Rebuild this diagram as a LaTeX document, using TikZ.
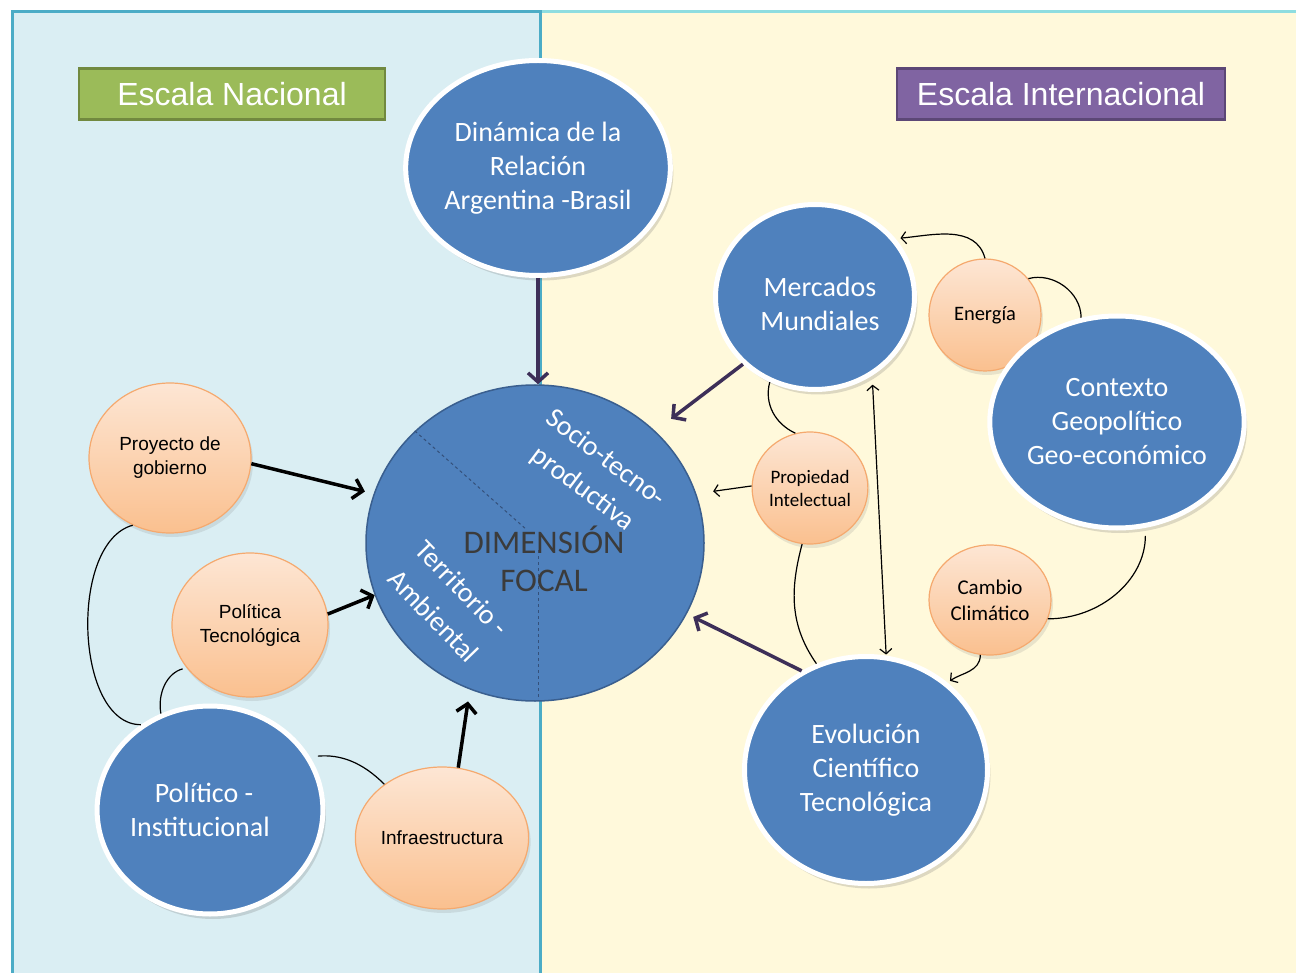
\documentclass[tikz,border=0pt]{standalone}
\usepackage{fontspec}
\setmainfont{Carlito}
\newfontfamily\arialf{Liberation Sans}
\usetikzlibrary{shapes.geometric,arrows.meta,shadows}
\definecolor{cblue}{HTML}{4F81BD}
\definecolor{focalb}{HTML}{3A5F8F}
\definecolor{dashc}{HTML}{34507A}
\definecolor{lblue}{HTML}{DAEEF3}
\definecolor{cream}{HTML}{FFF9DB}
\definecolor{tealb}{HTML}{4BACC6}
\definecolor{topcyan}{HTML}{8EDDE0}
\definecolor{tgreen}{HTML}{9BBB59}
\definecolor{tgreenb}{HTML}{71893F}
\definecolor{tpurp}{HTML}{8064A2}
\definecolor{tpurpb}{HTML}{5C4776}
\definecolor{orTop}{HTML}{FDE6D4}
\definecolor{orBot}{HTML}{FAC08F}
\definecolor{orLine}{HTML}{F5A96E}
\definecolor{darkp}{HTML}{3D2F58}
\definecolor{dimgray}{HTML}{3B3B3B}
\tikzset{
 bluec/.style={ellipse, fill=cblue, draw=white, line width=5pt, text=white, align=center, inner sep=0pt,
   font=\fontsize{28}{34}\selectfont,
   drop shadow={shadow xshift=3pt, shadow yshift=-5pt, opacity=0.22, fill=black!60}},
 orc/.style={ellipse, top color=orTop, bottom color=orBot, draw=orLine, line width=1.2pt, align=center,
   inner sep=0pt, text=black,
   drop shadow={shadow xshift=2pt, shadow yshift=-4pt, opacity=0.18, fill=black!50}},
 arialtxt/.style={font=\arialf\fontsize{19}{24}\selectfont},
 titlebox/.style={rectangle, line width=2.5pt, text=white, font=\arialf\fontsize{32}{36}\selectfont, inner sep=0pt},
 karrow/.style={line width=3.5pt, draw=black, -{Straight Barb[length=9pt,width=20pt]}},
 parrow/.style={line width=3.5pt, draw=darkp, -{Straight Barb[length=9pt,width=20pt]}},
 tarrow/.style={line width=1.2pt, draw=black, -{Straight Barb[length=5pt,width=12pt]}},
 tdarrow/.style={line width=1.2pt, draw=black, {Straight Barb[length=5pt,width=12pt]}-{Straight Barb[length=5pt,width=12pt]}},
 tline/.style={line width=1.2pt, draw=black},
 rottxt/.style={text=white, align=center},
}
\begin{document}
\begin{tikzpicture}[x=1pt,y=-1pt]
\useasboundingbox (0,0) rectangle (1296,973);
% backgrounds
\fill[white] (0,0) rectangle (1296,973);
\fill[cream] (540,12) rectangle (1296,973);
\fill[lblue] (12,12) rectangle (540,973);
\draw[topcyan, line width=3pt] (540,12) -- (1296,12);
\draw[tealb, line width=3pt] (12,980) -- (12,12) -- (540,12) -- (540,980);

% titles
\node[titlebox, fill=tgreen, draw=tgreenb, minimum width=306pt, minimum height=51pt] (nac) at (232,94) {Escala Nacional};
\node[titlebox, fill=tpurp, draw=tpurpb, minimum width=328pt, minimum height=51pt] (int) at (1061,94) {Escala Internacional};

% orange circles
\node[orc, arialtxt, minimum width=162pt, minimum height=150pt] (proy) at (170,458) {Proyecto de\\gobierno};
\node[orc, arialtxt, minimum width=156pt, minimum height=144pt] (poltec) at (250,625) {Política\\Tecnológica};
\node[orc, arialtxt, minimum width=154pt, minimum height=142pt] (infra) at (442,838) {Infraestructura};
\node[orc, minimum width=112pt, minimum height=112pt, font=\fontsize{20.5}{24}\selectfont] (en) at (985,315) {Energía};
\node[orc, minimum width=112pt, minimum height=112pt, font=\fontsize{19}{23}\selectfont] (prop) at (810,488) {Propiedad\\Intelectual};
\node[orc, minimum width=122pt, minimum height=110pt, font=\fontsize{21}{26}\selectfont] (cam) at (990,600) {Cambio\\Climático};

% blue circles
\node[bluec, minimum width=239pt, minimum height=215pt] (dyn) at (538,168) {Dinámica de la\\Relación\\Argentina -Brasil};
\node[bluec, minimum width=199pt, minimum height=185pt] (merc) at (815,297) {\rule{0pt}{33pt}\hspace*{10pt}Mercados\\\hspace*{10pt}Mundiales};
\node[bluec, minimum width=230pt, minimum height=212pt] (ctx) at (1117,422) {Contexto\\Geopolítico\\Geo-económico};
\node[bluec, minimum width=243pt, minimum height=227pt] (evo) at (866,770) {Evolución\\Científico\\Tecnológica};
\node[bluec, minimum width=219pt, minimum height=208pt] (pol) at (210,810) {Político -\hspace*{12pt}\\Institucional\hspace*{20pt}};

% focal
\node[ellipse, fill=cblue, draw=focalb, line width=1.5pt, minimum width=338pt, minimum height=316pt, inner sep=0pt] (focal) at (535,543) {};
\draw[dashed, dashc, line width=1pt] (focal.137) -- (527,530);
\draw[dashed, dashc, line width=1pt] (538,550) -- (538,700);
\node[rottxt, font=\fontsize{28}{38}\selectfont, rotate=-37] (socio) at (594,474) {Socio-tecno-\\productiva};
\node[rottxt, font=\fontsize{28}{40}\selectfont, rotate=-46] (terr) at (448,602) {Territorio -\\Ambiental};
\node[text=dimgray, font=\fontsize{33}{38}\selectfont, align=center] (dimt) at (544,559) {DIMENSIÓN\\FOCAL};

% main arrows
\draw[parrow] (dyn.south) -- (dyn.south |- focal.north);
\draw[parrow, shorten >=20pt] (merc.223) -- (focal.43);
\draw[parrow, shorten >=7pt] (evo.123) -- (focal.-25);
\draw[karrow, shorten >=9pt] (proy.-4) -- (focal.163);
\draw[karrow] (poltec.8) -- (focal.198);
\draw[karrow, shorten >=12pt] (infra.77) -- (focal.246);

% thin connectors
\draw[tarrow, shorten >=17pt] (prop.178) -- (focal.17);
\draw[tdarrow, shorten <=9pt, shorten >=1pt] (merc.-54) -- (evo.80);
\draw[tarrow, shorten >=5pt] (en.north) to[out=105,in=5] (merc.36);
\draw[tline] (en.40) to[out=15,in=90] (ctx.109);
\draw[tline] (merc.242) to[out=255,in=155] (prop.105);
\draw[tline] (prop.262) to[out=255,in=125] (evo.115);
\draw[tline, shorten <=8pt] (ctx.-75) to[out=-90,in=0] (cam.-18);
\draw[tarrow, shorten >=3pt] (cam.260) to[out=270,in=35] (evo.47);
\draw[tline] (proy.241) to[out=195,in=180,looseness=0.85] (pol.129);
\draw[tline, shorten <=4pt] (poltec.214) to[out=195,in=100] (pol.117);
\draw[tline, shorten <=8pt] (pol.28) to[out=5,in=135] (infra.137);
\end{tikzpicture}
\end{document}
